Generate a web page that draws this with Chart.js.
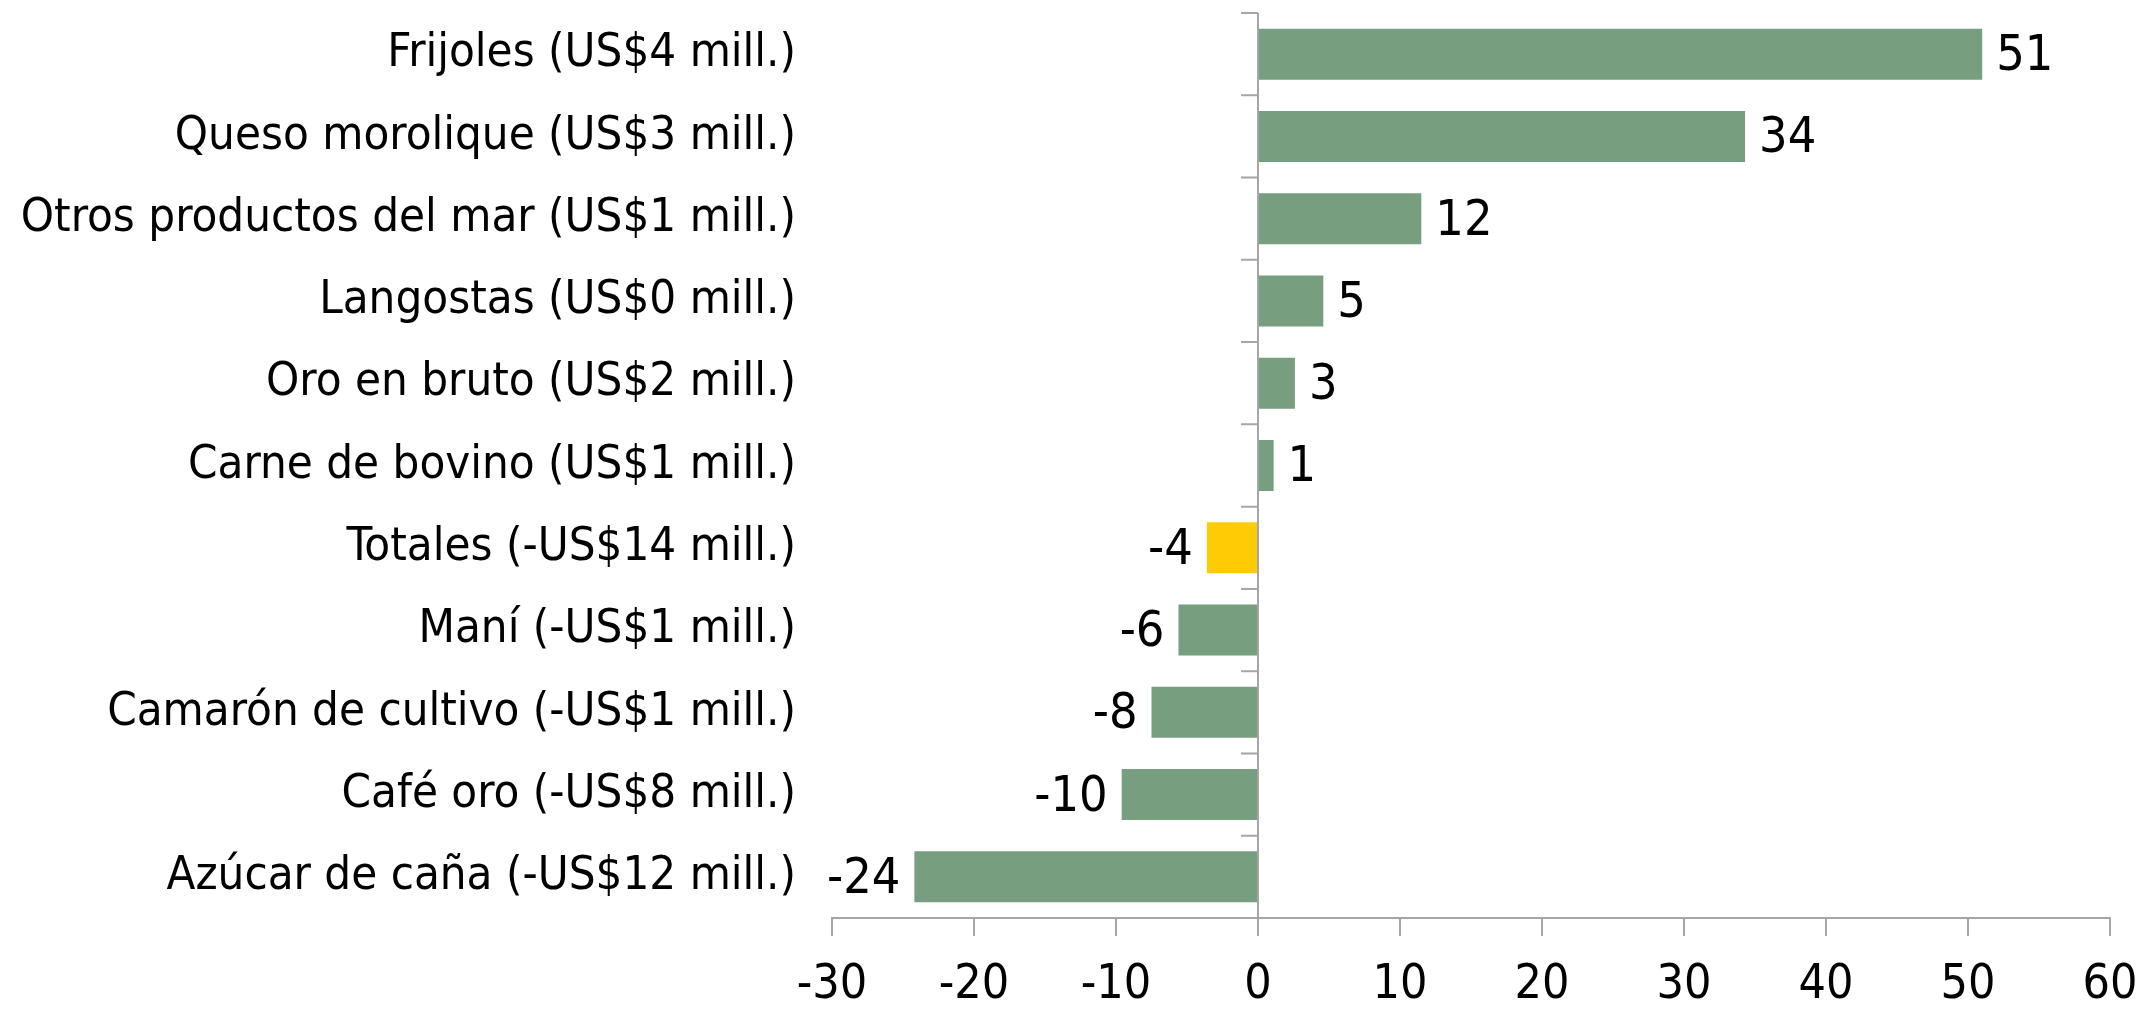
<!DOCTYPE html>
<html>
<head>
<meta charset="utf-8">
<script src="https://cdn.jsdelivr.net/npm/chart.js@4"></script>
<style>
  body { margin: 0; background: #fff; }
</style>
</head>
<body>
<canvas id="chart" width="2141" height="1010"></canvas>
<script>
const categories = [
  'Frijoles (US$4 mill.)',
  'Queso morolique (US$3 mill.)',
  'Otros productos del mar (US$1 mill.)',
  'Langostas (US$0 mill.)',
  'Oro en bruto (US$2 mill.)',
  'Carne de bovino (US$1 mill.)',
  'Totales (-US$14 mill.)',
  'Maní (-US$1 mill.)',
  'Camarón de cultivo (-US$1 mill.)',
  'Café oro (-US$8 mill.)',
  'Azúcar de caña (-US$12 mill.)'
];
const values = [51.0, 34.3, 11.5, 4.6, 2.6, 1.1, -3.6, -5.6, -7.5, -9.6, -24.2];
const totalCategory = 'Totales (-US$14 mill.)';
const xTicks = [-30, -20, -10, 0, 10, 20, 30, 40, 50, 60];

const FONT = "'Liberation Sans Narrow', 'DejaVu Sans Condensed', 'Roboto Condensed', sans-serif";
const GREEN = '#769e7f';
const YELLOW = '#ffcb05';
const GRAY = '#a6a6a6';

// vertical line at zero with little ticks between categories
const zeroLine = {
  id: 'zeroLine',
  beforeDatasetsDraw(chart) {
    const { ctx, chartArea, scales: { x, y } } = chart;
    const x0 = x.getPixelForValue(0);
    const half = (y.getPixelForValue(1) - y.getPixelForValue(0)) / 2;
    ctx.save();
    ctx.strokeStyle = GRAY;
    ctx.lineWidth = 2;
    ctx.beginPath();
    ctx.moveTo(x0, chartArea.top);
    ctx.lineTo(x0, chartArea.bottom);
    for (let i = 0; i <= categories.length; i++) {
      const yy = y.getPixelForValue(i) - half;
      ctx.moveTo(x0 - 17, yy);
      ctx.lineTo(x0, yy);
    }
    ctx.stroke();
    ctx.restore();
  }
};

const valueLabels = {
  id: 'valueLabels',
  afterDatasetsDraw(chart) {
    const { ctx } = chart;
    const meta = chart.getDatasetMeta(0);
    ctx.save();
    ctx.font = '50px ' + FONT;
    ctx.fillStyle = '#000';
    ctx.textBaseline = 'middle';
    meta.data.forEach((bar, i) => {
      const v = values[i];
      const txt = v.toFixed(0);
      if (v >= 0) {
        ctx.textAlign = 'left';
        ctx.fillText(txt, bar.x + 14, bar.y + 3);
      } else {
        ctx.textAlign = 'right';
        ctx.fillText(txt, bar.x - 14, bar.y + 3);
      }
    });
    ctx.restore();
  }
};

new Chart(document.getElementById('chart'), {
  type: 'bar',
  data: {
    labels: categories,
    datasets: [{
      data: values,
      backgroundColor: categories.map(c => c === totalCategory ? YELLOW : GREEN),
      borderWidth: 0,
      categoryPercentage: 1,
      barPercentage: 0.62
    }]
  },
  options: {
    indexAxis: 'y',
    responsive: false,
    devicePixelRatio: 1,
    animation: false,
    layout: { padding: { top: 13, right: 31, left: 0, bottom: 0 } },
    plugins: { legend: { display: false }, tooltip: { enabled: false } },
    scales: {
      x: {
        min: -30,
        max: 60,
        afterBuildTicks: s => { s.ticks = xTicks.map(v => ({ value: v })); },
        afterFit: s => { s.height = 92; s.paddingLeft = 0; s.paddingRight = 0; },
        border: { display: true, color: GRAY, width: 2 },
        grid: { display: true, drawOnChartArea: false, drawTicks: true, tickLength: 18, color: GRAY, lineWidth: 2 },
        ticks: { color: '#000', padding: 26, maxRotation: 0, font: { family: FONT, size: 48, lineHeight: 1 } }
      },
      y: {
        afterFit: s => { s.width = 832; s.paddingTop = 0; s.paddingBottom = 0; },
        border: { display: false },
        grid: { display: false, drawTicks: false },
        ticks: { color: '#000', padding: 36, font: { family: FONT, size: 47 } }
      }
    }
  },
  plugins: [zeroLine, valueLabels]
});
</script>
</body>
</html>
